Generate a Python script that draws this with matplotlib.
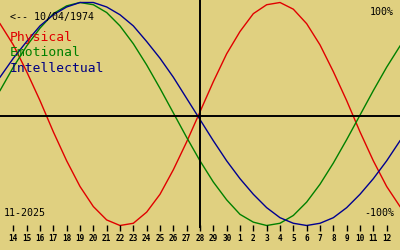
import matplotlib
matplotlib.use("Agg")
import matplotlib.pyplot as plt

# day labels along the bottom (Nov 14 .. Dec 12), cursor on the 28th
day_labels = [str(d) for d in range(14, 31)] + [str(d) for d in range(1, 13)]
cursor_day = 15          # index of "28" on the day axis
birth = "10/04/1974"
month_label = "11-2025"

# values, one per day, from the left edge (day 13) to the right edge
physical = [0.81, 0.62, 0.38, 0.12, -0.16, -0.42, -0.65, -0.83, -0.95, -1.00, -0.98,
            -0.88, -0.72, -0.50, -0.25, 0.02, 0.29, 0.54, 0.74, 0.90, 0.98, 1.00,
            0.94, 0.81, 0.62, 0.38, 0.12, -0.16, -0.42, -0.65, -0.83]
emotional = [0.21, 0.42, 0.61, 0.77, 0.90, 0.97, 1.00, 0.98, 0.91, 0.79, 0.63,
             0.44, 0.23, 0.01, -0.21, -0.42, -0.61, -0.77, -0.90, -0.97, -1.00, -0.98,
             -0.91, -0.79, -0.63, -0.44, -0.23, -0.01, 0.21, 0.42, 0.61]
intellectual = [0.33, 0.50, 0.65, 0.79, 0.89, 0.96, 1.00, 1.00, 0.96, 0.89, 0.79,
                0.65, 0.50, 0.33, 0.14, -0.05, -0.24, -0.42, -0.58, -0.72, -0.84, -0.93,
                -0.98, -1.00, -0.98, -0.93, -0.84, -0.72, -0.58, -0.42, -0.24]

BG = "#e0d080"
W, H = 400, 250
CY, AMP = 114.0, 111.5   # pixel row of zero and pixel height of 100%


def pv(p):
    # pixel row -> value on the y axis
    return (CY - p) / AMP


fig = plt.figure(figsize=(W / 100, H / 100), dpi=100, facecolor=BG)
ax = fig.add_axes([0, 0, 1, 1])
ax.set_facecolor(BG)
ax.set_xlim(0, len(physical) - 1)
ax.set_ylim(pv(H), pv(0))
ax.axis("off")

days = list(range(len(physical)))
ax.plot(days, physical, color="#e00000", lw=1.0)
ax.plot(days, emotional, color="#008000", lw=1.0)
ax.plot(days, intellectual, color="#000090", lw=1.0)

ax.axhline(pv(115.5), color="black", lw=1.4)
ax.vlines(cursor_day, pv(228), pv(0), color="black", lw=1.4)

ticks = list(range(1, len(day_labels) + 1))
ax.vlines(ticks, pv(231), pv(225), color="black", lw=1.0)
for x, lab in zip(ticks, day_labels):
    ax.text(x, pv(238), lab, ha="center", va="center", fontsize=5.6,
            family="DejaVu Sans Mono", fontweight="bold", color="black")

mono = dict(family="DejaVu Sans Mono", transform=None)


def put(x, y, s, size, color="black", ha="left"):
    fig.text(x / W, 1 - y / H, s, ha=ha, va="center", fontsize=size,
             family="DejaVu Sans Mono", color=color)


put(10, 17, "<-- " + birth, 7.2)
put(394, 12, "100%", 7.2, ha="right")
put(394, 213, "-100%", 7.2, ha="right")
put(4, 213, month_label, 7.2)
put(10, 38, "Physical", 9.4, "#e00000")
put(10, 53, "Emotional", 9.4, "#008000")
put(10, 68, "Intellectual", 9.4, "#000080")

fig.savefig("out.png", dpi=100, facecolor=BG)
